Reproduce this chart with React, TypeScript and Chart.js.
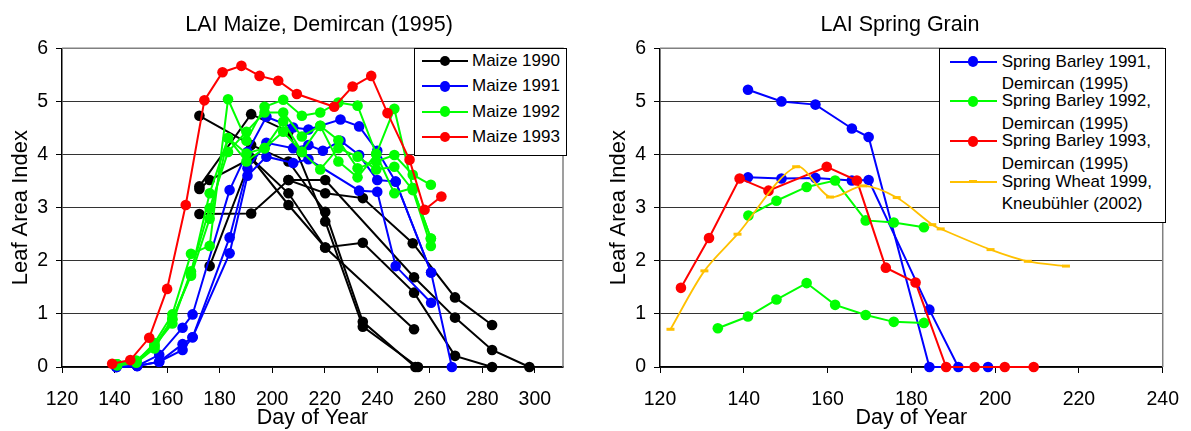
import React, { useEffect, useRef } from 'react';
import { Chart, registerables } from 'chart.js';

Chart.register(...registerables);

const FONT = "'Liberation Sans', Arial, Helvetica, sans-serif";

type Pt = [number, number];

// ---------- shared ----------
const laiTicks = [0, 1, 2, 3, 4, 5, 6];

// ---------- left panel: LAI Maize, Demircan (1995) ----------
const maizeTitle = 'LAI Maize, Demircan (1995)';
const maizeXTicks = [120, 140, 160, 180, 200, 220, 240, 260, 280, 300];
const maizeLegend = ['Maize 1990', 'Maize 1991', 'Maize 1992', 'Maize 1993'];
const maizeColors = ['#000000', '#0000FF', '#00FF00', '#FF0000'];

// Maize 1990 (several fields)
const maize1990A: Pt[] = [[172.3, 4.73], [192, 4.18], [206.2, 3.87], [220.2, 2.92], [234.5, 0.85], [254.5, 0]];
const maize1990B: Pt[] = [[172.3, 3.4], [192, 4.76], [206.2, 4.43], [220.2, 2.74], [234.5, 0.76], [255.5, 0]];
const maize1990C: Pt[] = [[172.3, 3.35], [176.2, 3.52], [192, 3.93], [206.2, 3.27], [220.2, 2.25], [234.5, 2.34], [254, 1.4], [269.6, 0.21], [283.7, 0]];
const maize1990D: Pt[] = [[172.3, 2.88], [192, 2.89], [206.2, 3.52], [220.2, 3.27], [234.5, 3.18], [253.5, 2.33], [269.6, 1.31], [283.7, 0.79]];
const maize1990E: Pt[] = [[176.2, 1.9], [192, 3.93], [206.2, 3.05], [220.2, 2.25], [254, 0.71]];
const maize1990F: Pt[] = [[206.2, 3.52], [220.2, 3.52], [254, 1.69], [269.6, 0.93], [283.7, 0.32], [297.9, 0]];

// Maize 1991
const maize1991A: Pt[] = [[140.7, 0], [148.6, 0.02], [157, 0.23], [165.9, 0.74], [169.7, 0.99], [183.8, 3.33], [190.6, 4.05], [197.8, 4.71], [208, 4.51], [213.8, 4.47], [226, 4.66], [233.1, 4.53], [240, 4.07], [247, 3.49], [260.5, 1.78], [268.4, 0]];
const maize1991B: Pt[] = [[140.7, 0], [148.6, 0.02], [157, 0.1], [165.9, 0.43], [169.7, 0.56], [183.8, 2.44], [190.6, 3.74], [197.8, 4.22], [208, 4.12], [213.8, 4.18], [219.3, 4.07], [226, 4.26], [233.1, 3.99], [240, 3.52], [247, 3.49], [260.5, 1.78]];
const maize1991C: Pt[] = [[140.7, 0], [148.6, 0.02], [157, 0.1], [165.9, 0.32], [169.7, 0.56], [183.8, 2.14], [190.6, 3.6], [197.8, 3.96], [208, 3.84], [213.8, 3.91], [233.1, 3.32], [240, 3.3], [247, 1.9], [260.5, 1.21]];

// Maize 1992
const maize1992A: Pt[] = [[141, 0.05], [148.3, 0.1], [155.2, 0.45], [162, 0.99], [169.1, 2.13], [176.2, 2.28], [183.2, 5.04], [190.2, 4.26], [197.1, 4.9], [204.2, 5.03], [211.3, 4.73], [218.3, 4.79], [225.2, 4.98], [232.5, 4.92], [239.6, 4.01], [246.5, 4.86], [253.5, 3.37], [260.4, 2.42]];
const maize1992B: Pt[] = [[141, 0.05], [148.3, 0.12], [155.2, 0.4], [162, 0.82], [169.1, 1.8], [176.2, 2.99], [183.2, 4.05], [190.2, 4.43], [197.1, 4.79], [204.2, 4.79], [211.3, 4.34], [218.3, 4.54], [225.2, 4.27], [232.5, 3.74], [239.6, 3.87], [246.5, 3.99], [253.5, 3.62], [260.4, 3.43]];
const maize1992C: Pt[] = [[141, 0.03], [148.3, 0.08], [155.2, 0.35], [162, 0.9], [169.1, 1.72], [176.2, 2.79], [183.2, 4.31], [190.2, 4.02], [197.1, 4.12], [204.2, 4.62], [211.3, 4.05], [218.3, 3.72], [225.2, 4.12], [232.5, 3.96], [239.6, 3.72], [246.5, 3.77], [253.5, 3.33], [260.4, 2.28]];
const maize1992D: Pt[] = [[141, 0.05], [148.3, 0.1], [155.2, 0.4], [162, 0.9], [169.1, 1.75], [176.2, 3.27], [183.2, 4.31], [190.2, 3.87], [197.1, 4.12], [204.2, 4.43], [211.3, 4.05], [218.3, 4.54], [225.2, 3.87], [232.5, 3.57], [239.6, 4.01], [246.5, 3.27], [253.5, 3.37], [260.4, 2.42]];

// Maize 1993
const maize1993: Pt[] = [[139.1, 0.06], [146, 0.13], [153.2, 0.55], [160, 1.47], [167.1, 3.05], [174.2, 5.02], [181.1, 5.55], [188.3, 5.67], [195.2, 5.48], [202.3, 5.39], [209.4, 5.14], [223.6, 4.9], [230.6, 5.28], [237.7, 5.48], [243.9, 4.78], [252.3, 3.9], [258, 2.96], [264.4, 3.21]];

// ---------- right panel: LAI Spring Grain ----------
const grainTitle = 'LAI Spring Grain';
const grainXTicks = [120, 140, 160, 180, 200, 220, 240];
const grainLegend = [
  ['Spring Barley 1991,', 'Demircan (1995)'],
  ['Spring Barley 1992,', 'Demircan (1995)'],
  ['Spring Barley 1993,', 'Demircan (1995)'],
  ['Spring Wheat 1999,', 'Kneubühler (2002)'],
];
const grainColors = ['#0000FF', '#00FF00', '#FF0000', '#FFC000'];

const barley1991A: Pt[] = [[141, 5.22], [149, 5.0], [157.1, 4.94], [165.8, 4.49], [169.8, 4.33], [184.3, 0], [198.3, 0]];
const barley1991B: Pt[] = [[141, 3.57], [149, 3.55], [157.1, 3.56], [165.8, 3.51], [169.8, 3.52], [184.3, 1.08], [191.2, 0]];
const barley1992A: Pt[] = [[141.1, 2.85], [147.8, 3.13], [155, 3.39], [161.8, 3.51], [169.1, 2.76], [175.8, 2.72], [183, 2.63]];
const barley1992B: Pt[] = [[133.8, 0.73], [141, 0.95], [147.8, 1.27], [155, 1.58], [161.8, 1.17], [169.1, 0.98], [175.8, 0.85], [183, 0.83]];
const barley1993: Pt[] = [[125, 1.49], [131.7, 2.43], [139, 3.55], [145.9, 3.32], [159.8, 3.77], [167, 3.51], [173.9, 1.87], [181, 1.59], [188.3, 0], [195.1, 0], [202.3, 0], [209.2, 0]];
const wheat1999: Pt[] = [[122.5, 0.71], [130.6, 1.81], [138.5, 2.5], [152.5, 3.77], [160.6, 3.2], [168.5, 3.41], [176.5, 3.19], [185, 2.68], [187, 2.6], [198.9, 2.21], [207.8, 1.99], [216.9, 1.9]];

// ---------- helpers ----------
function dotSet(label: string, pts: Pt[], color: string, order: number) {
  return {
    label,
    data: pts.map(([x, y]) => ({ x, y })),
    borderColor: color,
    backgroundColor: color,
    borderWidth: 2,
    pointRadius: 5.3,
    pointHoverRadius: 5.3,
    pointBackgroundColor: color,
    pointBorderColor: color,
    pointBorderWidth: 0,
    tension: 0,
    clip: false,
    order,
  };
}

function framePlugin() {
  return {
    id: 'plotFrame',
    beforeDatasetsDraw(chart: any) {
      const { ctx, chartArea } = chart;
      const { left, top, right, bottom } = chartArea;
      ctx.save();
      ctx.strokeStyle = '#808080';
      ctx.lineWidth = 1.5;
      ctx.beginPath();
      ctx.moveTo(left, top);
      ctx.lineTo(right, top);
      ctx.lineTo(right, bottom);
      ctx.stroke();
      ctx.restore();
    },
  };
}

function titlePlugin(text: string, cx: number, cy: number) {
  return {
    id: 'fixedTitle',
    afterDraw(chart: any) {
      const ctx = chart.ctx;
      ctx.save();
      ctx.font = `21.5px ${FONT}`;
      ctx.fillStyle = '#000';
      ctx.textAlign = 'center';
      ctx.textBaseline = 'middle';
      ctx.fillText(text, cx, cy);
      ctx.restore();
    },
  };
}

function makeScales(xMin: number, xMax: number, xTicks: number[], yWidth: number) {
  return {
    x: {
      type: 'linear',
      min: xMin,
      max: xMax,
      afterBuildTicks: (s: any) => {
        s.ticks = xTicks.map((v) => ({ value: v }));
      },
      afterFit: (s: any) => {
        s.height = 64;
      },
      grid: { drawOnChartArea: false, drawTicks: true, tickLength: 6, color: '#000', lineWidth: 1 },
      border: { display: true, color: '#000', width: 1.5 },
      ticks: { color: '#000', font: { family: FONT, size: 19.5 }, padding: 15, maxRotation: 0, autoSkip: false },
      title: {
        display: true,
        text: 'Day of Year',
        color: '#000',
        font: { family: FONT, size: 21.5 },
        padding: { top: 0, bottom: 0.2 },
      },
    },
    y: {
      type: 'linear',
      min: 0,
      max: 6,
      afterBuildTicks: (s: any) => {
        s.ticks = laiTicks.map((v) => ({ value: v }));
      },
      afterFit: (s: any) => {
        s.width = yWidth;
      },
      grid: { color: '#333', lineWidth: 1, drawTicks: true, tickLength: 6, tickColor: '#000' },
      border: { display: true, color: '#000', width: 1.5 },
      ticks: { color: '#000', font: { family: FONT, size: 19.5 }, padding: 8 },
      title: {
        display: true,
        text: 'Leaf Area Index',
        color: '#000',
        font: { family: FONT, size: 22 },
        padding: { top: 0, bottom: 0 },
      },
    },
  };
}

function baseOptions(scales: any, padding: any) {
  return {
    responsive: false,
    maintainAspectRatio: false,
    animation: false,
    devicePixelRatio: 1,
    layout: { padding },
    plugins: {
      legend: { display: false },
      title: { display: false },
      tooltip: { enabled: false },
    },
    scales,
  };
}

// ---------- legend pieces (HTML) ----------
function LegendLine({ x1, x2, cy, mx, color, dash }: any) {
  return (
    <>
      <div style={{ position: 'absolute', left: x1, top: cy - 1, width: x2 - x1, height: 2, background: color }} />
      {dash ? (
        <div style={{ position: 'absolute', left: mx - 4, top: cy - 1.5, width: 8, height: 3, background: color }} />
      ) : (
        <div
          style={{
            position: 'absolute',
            left: mx - 5.3,
            top: cy - 5.3,
            width: 10.6,
            height: 10.6,
            borderRadius: '50%',
            background: color,
          }}
        />
      )}
    </>
  );
}

function LegendText({ x, cy, text }: any) {
  return (
    <span
      style={{
        position: 'absolute',
        left: x,
        top: cy - 10,
        fontFamily: FONT,
        fontSize: 17,
        lineHeight: '20px',
        color: '#000',
        whiteSpace: 'nowrap',
      }}
    >
      {text}
    </span>
  );
}

export default function App() {
  const leftRef = useRef<HTMLCanvasElement>(null);
  const rightRef = useRef<HTMLCanvasElement>(null);

  useEffect(() => {
    const maizeSets = [
      ...[maize1990A, maize1990B, maize1990C, maize1990D, maize1990E, maize1990F].map((p) => dotSet(maizeLegend[0], p, maizeColors[0], 3)),
      ...[maize1991A, maize1991B, maize1991C].map((p) => dotSet(maizeLegend[1], p, maizeColors[1], 2)),
      ...[maize1992A, maize1992B, maize1992C, maize1992D].map((p) => dotSet(maizeLegend[2], p, maizeColors[2], 1)),
      dotSet(maizeLegend[3], maize1993, maizeColors[3], 0),
    ];
    const left = new Chart(leftRef.current as HTMLCanvasElement, {
      type: 'line',
      data: { datasets: maizeSets as any },
      options: baseOptions(makeScales(120, 310.7, maizeXTicks, 54), { left: 8, right: 75, top: 48.3, bottom: 0 }) as any,
      plugins: [framePlugin(), titlePlugin(maizeTitle, 319, 25)],
    });

    const wheatSet: any = {
      ...dotSet(grainLegend[3][0], wheat1999, grainColors[3], 0),
      borderWidth: 1.8,
      pointStyle: 'line',
      pointRadius: 4,
      pointHoverRadius: 4,
      pointBorderWidth: 3,
      tension: 0.3,
    };
    const grainSets = [
      dotSet(grainLegend[0][0], barley1991A, grainColors[0], 3),
      dotSet(grainLegend[0][0], barley1991B, grainColors[0], 3),
      dotSet(grainLegend[1][0], barley1992A, grainColors[1], 2),
      dotSet(grainLegend[1][0], barley1992B, grainColors[1], 2),
      dotSet(grainLegend[2][0], barley1993, grainColors[2], 1),
      wheatSet,
    ];
    const right = new Chart(rightRef.current as HTMLCanvasElement, {
      type: 'line',
      data: { datasets: grainSets as any },
      options: baseOptions(makeScales(120, 240, grainXTicks, 54), { left: 0, right: 28, top: 48.3, bottom: 0 }) as any,
      plugins: [framePlugin(), titlePlugin(grainTitle, 294, 25)],
    });

    return () => {
      left.destroy();
      right.destroy();
    };
  }, []);

  const maizeRows = [61, 86.3, 111.7, 137];
  const grainRows = [61.7, 101.3, 141.3, 181.7];

  return (
    <div
      style={{
        position: 'fixed',
        left: 0,
        top: 0,
        width: 1191,
        height: 431,
        overflow: 'hidden',
        background: '#fff',
      }}
    >
      <canvas ref={leftRef} width={638} height={431} style={{ position: 'absolute', left: 0, top: 0 }} />
      <canvas ref={rightRef} width={588} height={431} style={{ position: 'absolute', left: 606, top: 0 }} />

      {/* left legend */}
      <div
        style={{
          position: 'absolute',
          left: 414,
          top: 48,
          width: 153,
          height: 108,
          border: '1px solid #000',
          background: '#fff',
          boxSizing: 'border-box',
        }}
      />
      {maizeLegend.map((t, i) => (
        <React.Fragment key={t}>
          <LegendLine x1={421.7} x2={468} cy={maizeRows[i]} mx={445} color={maizeColors[i]} />
          <LegendText x={472} cy={maizeRows[i]} text={t} />
        </React.Fragment>
      ))}

      {/* right legend */}
      <div
        style={{
          position: 'absolute',
          left: 939,
          top: 48,
          width: 227,
          height: 175,
          border: '1px solid #000',
          background: '#fff',
          boxSizing: 'border-box',
        }}
      />
      {grainLegend.map((lines, i) => (
        <React.Fragment key={lines[0]}>
          <LegendLine x1={950} x2={996.7} cy={grainRows[i]} mx={973} color={grainColors[i]} dash={i === 3} />
          <LegendText x={1001.7} cy={grainRows[i]} text={lines[0]} />
          <LegendText x={1001.7} cy={grainRows[i] + 22.5} text={lines[1]} />
        </React.Fragment>
      ))}
    </div>
  );
}
